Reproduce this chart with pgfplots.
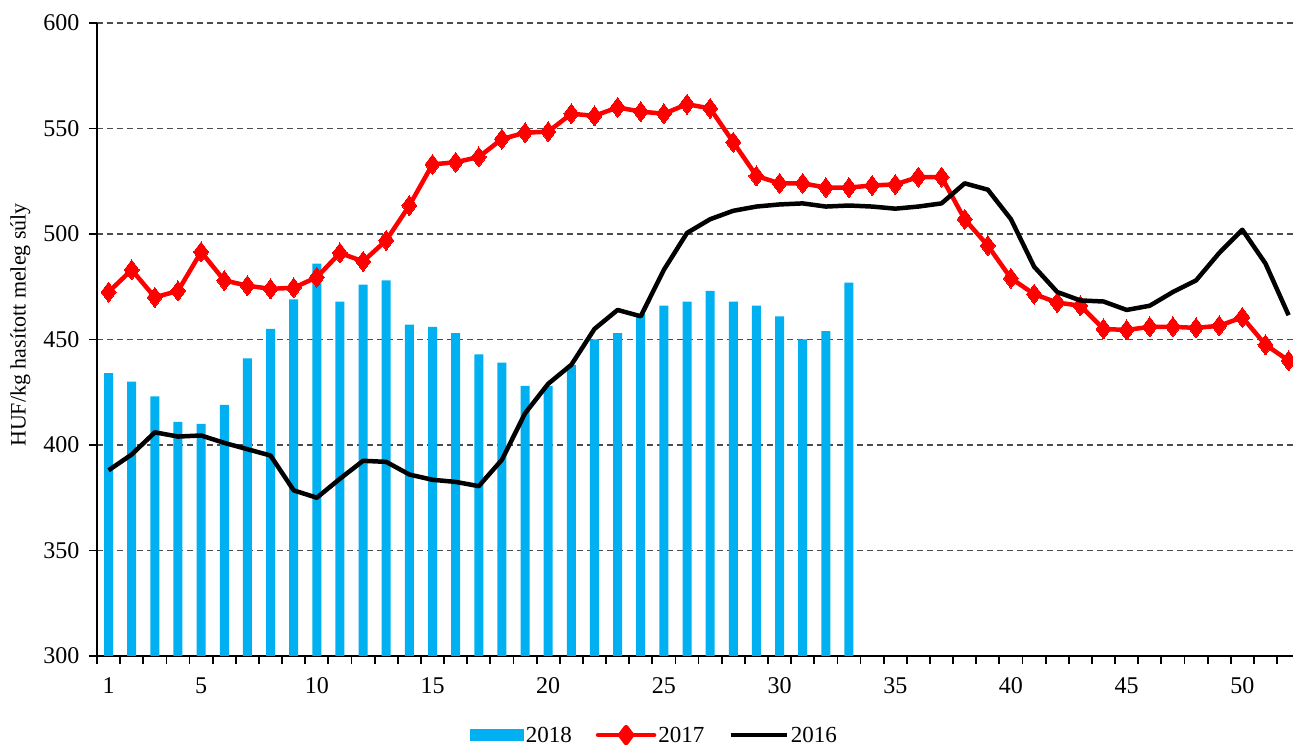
\documentclass[border=0pt]{standalone}
\usepackage{fontspec}
\setmainfont{Liberation Serif}
\usepackage{pgfplots}
\pgfplotsset{compat=1.18}
\definecolor{c18}{HTML}{00B0F0}
\definecolor{c17}{HTML}{FF0000}
\begin{document}
\begin{tikzpicture}
\begin{axis}[name=ax, at={(0,0)}, anchor=south west,
  scale only axis, width=1196pt, height=633pt,
  xmin=0.5, xmax=52.19, ymin=300, ymax=600,
  axis x line*=bottom, axis y line*=left,
  axis line style={line width=1.8pt, -},
  xtick={0.5,1.5,...,51.5}, xticklabels={},
  extra x ticks={1,5,10,15,20,25,30,35,40,45,50},
  extra x tick labels={1,5,10,15,20,25,30,35,40,45,50},
  extra x tick style={major tick length=0pt, xmajorgrids=false, xticklabel style={yshift=-18pt}},
  ytick={300,350,...,600},
  yticklabel style={xshift=-6pt},
  major tick length=8pt,
  tick align=outside,
  tick style={line width=1.8pt, black},
  ymajorgrids,
  grid style={line width=1.3pt, black!70, dash pattern=on 6pt off 4pt},
  /pgf/number format/assume math mode=true,
  tick label style={font=\fontsize{24}{28}\selectfont},
  ylabel={HUF/kg hasított meleg súly},
  ylabel style={at={(axis description cs:-0.064,0.523)}, anchor=center, rotate=0, font=\fontsize{22}{26}\selectfont},
  legend style={at={(0.466,-0.125)}, anchor=center, draw=none, legend columns=-1,
    font=\fontsize{23}{27}\selectfont,
    /tikz/every even column/.append style={column sep=22pt}},
  clip mode=individual,
]
\addplot[ybar, bar width=9pt, fill=c18, draw=none, bar shift=0pt,
  legend image code/.code={\fill[c18] (0pt,-6pt) rectangle (54pt,6pt);}]
 coordinates {(1,434)(2,430)(3,423)(4,411)(5,410)(6,419)(7,441)(8,455)(9,469)(10,486)
 (11,468)(12,476)(13,478)(14,457)(15,456)(16,453)(17,443)(18,439)(19,428)(20,428)
 (21,438)(22,450)(23,453)(24,462)(25,466)(26,468)(27,473)(28,468)(29,466)(30,461)
 (31,450)(32,454)(33,477)};
\addlegendentry{2018}
\addplot[c17, line width=4.5pt, line join=round, mark=diamond*, mark size=10pt,
  mark options={solid, line width=0pt, fill=c17, draw=c17},
  legend image code/.code={\draw[c17, line width=4.5pt, line cap=round] (0pt,0pt) -- (56pt,0pt);
    \fill[c17] (28pt,-8pt) -- (34pt,0pt) -- (28pt,8pt) -- (22pt,0pt) -- cycle;}]
 coordinates {(1,472.5)(2,483)(3,470)(4,473)(5,491.5)(6,478)(7,475.5)(8,474)(9,474.5)(10,479.5)
 (11,491)(12,487)(13,497)(14,513.5)(15,533)(16,534)(17,536.5)(18,545)(19,548)(20,548.5)
 (21,557)(22,556)(23,560)(24,558)(25,557)(26,561.5)(27,559.5)(28,543.5)(29,527.5)(30,524)
 (31,524)(32,522)(33,522)(34,523)(35,523.5)(36,527)(37,527)(38,507)(39,494.5)(40,479)
 (41,471.5)(42,467.5)(43,466)(44,455)(45,454.5)(46,456)(47,456)(48,455.5)(49,456.5)(50,460.5)
 (51,447.5)(52,440)};
\addlegendentry{2017}
\addplot[black, line width=4.5pt, line join=round, no marks,
  legend image code/.code={\draw[black, line width=4.5pt] (0pt,0pt) -- (56pt,0pt);}]
 coordinates {(1,388)(2,395.5)(3,406)(4,404)(5,404.5)(6,401)(7,398)(8,395)(9,378.5)(10,375)
 (11,384)(12,392.5)(13,392)(14,386)(15,383.5)(16,382.5)(17,380.5)(18,393)(19,415)(20,429)
 (21,438)(22,455)(23,464)(24,461)(25,483)(26,500.5)(27,507)(28,511)(29,513)(30,514)
 (31,514.5)(32,513)(33,513.5)(34,513)(35,512)(36,513)(37,514.5)(38,524)(39,521)(40,507)
 (41,484.5)(42,472.5)(43,468.5)(44,468)(45,464)(46,466)(47,472.5)(48,478)(49,491)(50,502)
 (51,486)(52,461.5)};
\addlegendentry{2016}
\end{axis}
\pgfresetboundingbox
\path[use as bounding box] ([shift={(-97pt,-89pt)}]ax.south west) rectangle ([shift={(0pt,23pt)}]ax.north east);
\end{tikzpicture}
\end{document}
